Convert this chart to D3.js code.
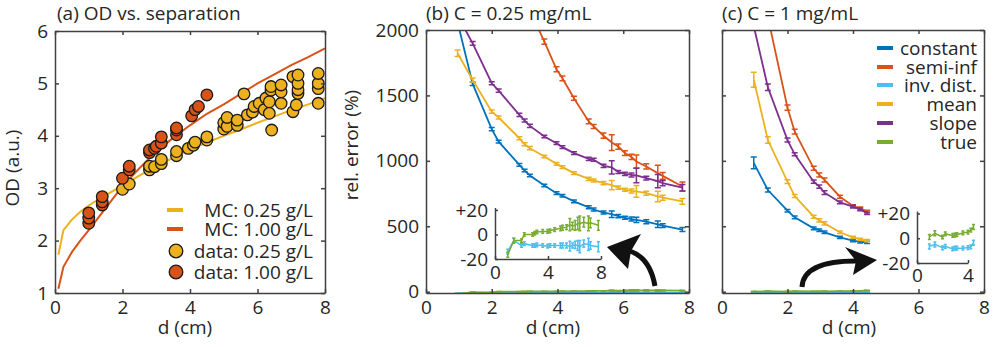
<!DOCTYPE html>
<html>
<head>
<meta charset="utf-8">
<style>
body { margin: 0; background: #fff; }
text { font-family: 'Open Sans', sans-serif; fill: #262626; }
</style>
</head>
<body>
<svg id="fig" width="996" height="347"></svg>
<script src="https://d3js.org/d3.v7.min.js"></script>
<script>

// ---- (a) OD vs separation ----
const mcD    = [0.1, 0.25, 0.5, 0.75, 1, 1.5, 2, 2.5, 3, 3.5, 4, 4.5, 5, 5.5, 6, 6.5, 7, 7.5, 8];
const mc025  = [1.73, 2.2, 2.4, 2.55, 2.67, 2.87, 3.05, 3.24, 3.42, 3.58, 3.74, 3.87, 4.0, 4.12, 4.25, 4.37, 4.49, 4.6, 4.72];
const mc100  = [1.08, 1.5, 1.78, 2.0, 2.2, 2.62, 3.04, 3.38, 3.7, 3.96, 4.2, 4.42, 4.6, 4.8, 5.0, 5.17, 5.35, 5.5, 5.67];

const dData025  = [2.0, 2.2, 2.8, 2.8, 2.95, 3.15, 3.15, 3.6, 3.6, 3.95, 4.1, 4.15, 4.5, 4.5, 5.0, 5.0, 5.1, 5.1, 5.4, 5.4, 5.6, 5.7, 5.85, 5.9, 6.05, 6.2, 6.25, 6.35, 6.35, 6.4, 6.4, 6.42, 6.7, 6.7, 6.7, 7.05, 7.05, 7.15, 7.2, 7.2, 7.2, 7.2, 7.8, 7.8, 7.8, 7.8];
const odData025 = [2.98, 3.08, 3.35, 3.42, 3.41, 3.47, 3.55, 3.62, 3.7, 3.76, 3.82, 3.88, 3.92, 3.98, 4.13, 4.25, 4.18, 4.35, 4.2, 4.3, 4.8, 4.4, 4.45, 4.56, 4.62, 4.5, 4.72, 4.43, 4.65, 4.87, 4.94, 4.11, 4.62, 4.84, 4.97, 4.46, 5.13, 4.59, 4.81, 4.88, 5.0, 5.16, 4.62, 4.9, 5.0, 5.19];
const dData100  = [1.0, 1.0, 1.0, 1.4, 1.4, 1.4, 2.0, 2.2, 2.2, 2.8, 2.8, 2.95, 3.0, 3.15, 3.15, 3.6, 3.6, 3.6, 4.05, 4.15, 4.25, 4.5];
const odData100 = [2.33, 2.43, 2.53, 2.68, 2.74, 2.84, 3.19, 3.35, 3.42, 3.68, 3.73, 3.76, 3.8, 3.86, 3.98, 4.02, 4.11, 4.15, 4.38, 4.5, 4.56, 4.78];

// ---- (b) C = 0.25 mg/mL ----
const dB          = [0.96, 1.42, 2.0, 2.21, 2.84, 3.0, 3.16, 3.6, 3.97, 4.15, 4.5, 4.95, 5.1, 5.4, 5.65, 5.85, 6.05, 6.25, 6.4, 6.7, 7.05, 7.2, 7.8];
const bConstant   = [2060, 1588, 1242, 1147, 969, 926, 888, 812, 753, 733, 690, 645, 628, 605, 592, 578, 565, 555, 548, 535, 515, 505, 475];
const bConstErr   = [20, 12, 12, 10, 10, 10, 10, 10, 10, 10, 10, 12, 12, 12, 25, 12, 12, 15, 20, 15, 25, 15, 15];
const bSemiInf    = [3400, 3000, 2700, 2600, 2400, 2300, 2150, 1911, 1700, 1631, 1479, 1301, 1263, 1192, 1140, 1109, 1059, 1030, 995, 957, 906, 885, 804];
const bSemiErr    = [30, 30, 30, 30, 30, 30, 25, 20, 20, 18, 15, 18, 15, 20, 60, 20, 18, 20, 50, 20, 60, 25, 35];
const bMean       = [1822, 1618, 1376, 1331, 1173, 1127, 1097, 1033, 977, 952, 906, 862, 850, 830, 815, 795, 779, 770, 766, 753, 728, 718, 690];
const bMeanErr    = [25, 15, 12, 12, 12, 12, 12, 10, 10, 10, 10, 12, 12, 12, 35, 12, 12, 15, 45, 15, 40, 20, 22];
const bSlope      = [2110, 1898, 1593, 1537, 1351, 1308, 1267, 1186, 1135, 1105, 1059, 1015, 1008, 962, 950, 915, 900, 892, 888, 868, 845, 830, 795];
const bSlopeErr   = [20, 15, 12, 12, 12, 12, 12, 10, 10, 10, 10, 12, 12, 12, 50, 12, 12, 15, 55, 15, 50, 20, 25];
const bInvDist    = [-14, -5, -9, -7.5, -9, -9, -8.5, -9, -9.5, -9, -9, -9, -9, -9, -9.5, -9, -8.5, -9, -10, -7.5, -8, -9, -10];
const bInvErr     = [2, 2, 1.5, 1.5, 1.5, 1.5, 1.5, 1.5, 1.5, 1.5, 1.5, 2, 2, 2, 4, 2, 3, 4, 5, 3, 5, 3, 4];
const bTrue       = [-16.5, -5, -5, 0, 0, 1, 2, 2.5, 2.5, 3, 4, 5, 5.5, 6, 8, 7, 7.5, 9, 9, 10, 9, 9.5, 7.5];
const bTrueErr    = [2, 2, 1.5, 1.5, 1.5, 1.5, 1.5, 1.5, 1.5, 1.5, 1.5, 2, 2, 2, 5, 3, 4, 5, 6, 4, 6, 4, 4];

// ---- (c) C = 1 mg/mL ----
const dC          = [0.97, 1.4, 2.0, 2.22, 2.8, 2.97, 3.13, 3.6, 4.0, 4.22, 4.43];
const cConstant   = [985, 777, 619, 568, 484, 470, 454, 415, 390, 380, 377];
const cConstErr   = [45, 15, 10, 10, 10, 10, 10, 8, 8, 8, 8];
const cSemiInf    = [2900, 2100, 1406, 1223, 943, 892, 854, 726, 655, 637, 612];
const cSemiErr    = [30, 30, 20, 18, 15, 15, 15, 12, 10, 10, 10];
const cMean       = [1620, 1159, 841, 731, 573, 545, 522, 454, 415, 400, 390];
const cMeanErr    = [58, 25, 15, 12, 12, 12, 12, 10, 8, 8, 8];
const cSlope      = [2030, 1562, 1159, 1050, 841, 803, 757, 683, 650, 629, 599];
const cSlopeErr   = [25, 25, 15, 12, 12, 12, 15, 10, 10, 10, 10];
const cInvDist    = [-6.6, -5, -7.7, -6.6, -8.6, -8, -8, -8, -7.5, -7, -3.7];
const cInvErr     = [2, 2, 1.5, 1.5, 1.5, 1.5, 1.5, 1.5, 1.5, 1.5, 2];
const cTrue       = [1, 4, 1, 3.5, 2.3, 2.5, 3, 4.3, 5, 6.6, 9];
const cTrueErr    = [2, 2, 1.5, 1.5, 1.5, 1.5, 1.5, 1.5, 1.5, 1.5, 2];

const methodNames = ["constant", "semi-inf", "inv. dist.", "mean", "slope", "true"];
const legendA = ["MC: 0.25 g/L", "MC: 1.00 g/L", "data: 0.25 g/L", "data: 1.00 g/L"];

const C = {blue: "#0072BD", red: "#D95319", yellow: "#EDB120", purple: "#7E2F8E", green: "#77AC30", cyan: "#4DBEEE"};
const methodColors = [C.blue, C.red, C.cyan, C.yellow, C.purple, C.green];
const axisColor = "#404040";
const FS = 19;

const svg = d3.select("#fig");
const defs = svg.append("defs");

function styleAxis(g) {
  g.attr("font-size", FS).attr("font-family", null);
  g.selectAll("path.domain").attr("stroke", axisColor).attr("stroke-width", 1.5);
  g.selectAll(".tick line").attr("stroke", axisColor).attr("stroke-width", 1.5);
  g.selectAll(".tick text").attr("fill", "#262626");
}

// box with inward ticks on all four sides
function frame(x, y, xt, yt, yLabels) {
  const x0 = x.range()[0], x1 = x.range()[1], y0 = y.range()[0], y1 = y.range()[1];
  const fmt = d3.format("d");
  svg.append("g").attr("transform", `translate(0,${y0})`)
    .call(d3.axisBottom(x).tickValues(xt).tickFormat(fmt).tickSize(-4).tickSizeOuter(0).tickPadding(8))
    .call(styleAxis);
  svg.append("g").attr("transform", `translate(0,${y1})`)
    .call(d3.axisTop(x).tickValues(xt).tickFormat("").tickSize(-4).tickSizeOuter(0))
    .call(styleAxis);
  svg.append("g").attr("transform", `translate(${x0},0)`)
    .call(d3.axisLeft(y).tickValues(yt).tickFormat(yLabels ? fmt : "").tickSize(-4).tickSizeOuter(0).tickPadding(7))
    .call(styleAxis);
  svg.append("g").attr("transform", `translate(${x1},0)`)
    .call(d3.axisRight(y).tickValues(yt).tickFormat("").tickSize(-4).tickSizeOuter(0))
    .call(styleAxis);
}

function clipFor(id, x, y) {
  defs.append("clipPath").attr("id", id).append("rect")
    .attr("x", x.range()[0]).attr("y", y.range()[1])
    .attr("width", x.range()[1] - x.range()[0]).attr("height", y.range()[0] - y.range()[1]);
  return svg.append("g").attr("clip-path", `url(#${id})`);
}

function errSeries(g, x, y, ds, vs, es, color, lw, cap) {
  g.append("path")
    .attr("d", d3.line().x((d, i) => x(ds[i])).y(d => y(d))(vs))
    .attr("fill", "none").attr("stroke", color).attr("stroke-width", lw);
  g.append("g").selectAll("path").data(vs).join("path")
    .attr("d", (v, i) => {
      const xx = x(ds[i]), yt = y(v + es[i]), yb = y(v - es[i]);
      return `M${xx - cap},${yt}h${2 * cap}M${xx},${yt}V${yb}M${xx - cap},${yb}h${2 * cap}`;
    })
    .attr("fill", "none").attr("stroke", color).attr("stroke-width", 1.5);
}

function addText(x, y, str, anchor, rot) {
  const t = svg.append("text").attr("font-size", FS).attr("text-anchor", anchor || "start").text(str);
  if (rot) t.attr("transform", `translate(${x},${y}) rotate(${rot})`);
  else t.attr("x", x).attr("y", y);
  return t;
}

// ================= panel (a) =================
const xA = d3.scaleLinear().domain([0, 8]).range([55, 325]);
const yA = d3.scaleLinear().domain([1, 6]).range([293, 31]);
const gA = clipFor("clipA", xA, yA);
const lineA = d3.line().x((d, i) => xA(mcD[i])).y(d => yA(d));
gA.append("path").attr("d", lineA(mc025)).attr("fill", "none").attr("stroke", C.yellow).attr("stroke-width", 2);
gA.append("path").attr("d", lineA(mc100)).attr("fill", "none").attr("stroke", C.red).attr("stroke-width", 2);
gA.append("g").selectAll("circle").data(odData025).join("circle")
  .attr("cx", (d, i) => xA(dData025[i])).attr("cy", d => yA(d)).attr("r", 5.8)
  .attr("fill", C.yellow).attr("stroke", "#1a1a1a").attr("stroke-width", 1.3);
gA.append("g").selectAll("circle").data(odData100).join("circle")
  .attr("cx", (d, i) => xA(dData100[i])).attr("cy", d => yA(d)).attr("r", 5.8)
  .attr("fill", C.red).attr("stroke", "#1a1a1a").attr("stroke-width", 1.3);
frame(xA, yA, [0, 2, 4, 6, 8], [1, 2, 3, 4, 5, 6], true);

// legend (a)
const legAY = [210, 229, 251, 272];
legendA.forEach((s, i) => {
  if (i < 2) {
    svg.append("line").attr("x1", 167).attr("x2", 183).attr("y1", legAY[i]).attr("y2", legAY[i])
      .attr("stroke", i === 0 ? C.yellow : C.red).attr("stroke-width", 4);
  } else {
    svg.append("circle").attr("cx", 176).attr("cy", legAY[i]).attr("r", 6.8)
      .attr("fill", i === 2 ? C.yellow : C.red).attr("stroke", "#1a1a1a").attr("stroke-width", 1.3);
  }
  addText(313, legAY[i] + 6.5, s, "end");
});

addText(57, 20, "(a) OD vs. separation");
addText(19, 168, "OD (a.u.)", "middle", -90);
addText(185, 334, "d (cm)", "middle");

// ================= panel (b) =================
const xB = d3.scaleLinear().domain([0, 8]).range([426, 689]);
const yB = d3.scaleLinear().domain([-10, 2000]).range([293, 30]);
const gB = clipFor("clipB", xB, yB);
const bSeries = [[bConstant, bConstErr], [bSemiInf, bSemiErr], [bInvDist, bInvErr], [bMean, bMeanErr], [bSlope, bSlopeErr], [bTrue, bTrueErr]];
bSeries.forEach((s, k) => errSeries(gB, xB, yB, dB, s[0], s[1], methodColors[k], 1.8, 3));
frame(xB, yB, [0, 2, 4, 6, 8], [0, 500, 1000, 1500, 2000], true);

addText(426, 20, "(b) C = 0.25 mg/mL");
addText(358, 145, "rel. error (%)", "middle", -90);
addText(553, 334, "d (cm)", "middle");

// inset (b)
const xBi = d3.scaleLinear().domain([0, 8]).range([495, 601]);
const yBi = d3.scaleLinear().domain([-20, 22]).range([259, 207.5]);
const gBi = svg.append("g");
errSeries(gBi, xBi, yBi, dB, bInvDist, bInvErr, C.cyan, 1.5, 1.5);
errSeries(gBi, xBi, yBi, dB, bTrue, bTrueErr, C.green, 1.5, 1.5);
const insetFmt = d => d > 0 ? "+" + d : String(d);
svg.append("g").attr("transform", "translate(0,259)")
  .call(d3.axisBottom(xBi).tickValues([0, 4, 8]).tickFormat(d3.format("d")).tickSize(-3).tickSizeOuter(0).tickPadding(7))
  .call(styleAxis);
svg.append("g").attr("transform", "translate(495,0)")
  .call(d3.axisLeft(yBi).tickValues([-20, 0, 20]).tickFormat(insetFmt).tickSize(-3).tickSizeOuter(0).tickPadding(7))
  .call(styleAxis);

// arrow (b)
svg.append("path").attr("d", "M655,286 Q650,258 630,251")
  .attr("fill", "none").attr("stroke", "#111").attr("stroke-width", 5);
svg.append("path").attr("d", "M607,247 L641,234 L631,251 L628,269 Z").attr("fill", "#111");

// ================= panel (c) =================
const xC = d3.scaleLinear().domain([0, 8]).range([722, 984]);
const yC = d3.scaleLinear().domain([-10, 2000]).range([293, 30]);
const gC = clipFor("clipC", xC, yC);
const cSeries = [[cConstant, cConstErr], [cSemiInf, cSemiErr], [cInvDist, cInvErr], [cMean, cMeanErr], [cSlope, cSlopeErr], [cTrue, cTrueErr]];
cSeries.forEach((s, k) => errSeries(gC, xC, yC, dC, s[0], s[1], methodColors[k], 1.8, 3));
frame(xC, yC, [0, 2, 4, 6, 8], [0, 500, 1000, 1500, 2000], false);

addText(722, 20, "(c) C = 1 mg/mL");
addText(849, 334, "d (cm)", "middle");

// legend (c)
const legCY = [48, 67, 85, 104, 123, 142];
methodNames.forEach((s, i) => {
  svg.append("line").attr("x1", 877).attr("x2", 893).attr("y1", legCY[i]).attr("y2", legCY[i])
    .attr("stroke", methodColors[i]).attr("stroke-width", 4);
  addText(977, legCY[i] + 6.5, s, "end");
});

// inset (c)
const xCi = d3.scaleLinear().domain([0, 4]).range([917, 968]);
const yCi = d3.scaleLinear().domain([-20, 22]).range([263, 211]);
const gCi = svg.append("g");
errSeries(gCi, xCi, yCi, dC, cInvDist, cInvErr, C.cyan, 1.5, 1.5);
errSeries(gCi, xCi, yCi, dC, cTrue, cTrueErr, C.green, 1.5, 1.5);
svg.append("g").attr("transform", "translate(0,263)")
  .call(d3.axisBottom(xCi).tickValues([0, 4]).tickFormat(d3.format("d")).tickSize(-3).tickSizeOuter(0).tickPadding(5))
  .call(styleAxis);
svg.append("g").attr("transform", "translate(917,0)")
  .call(d3.axisLeft(yCi).tickValues([-20, 0, 20]).tickFormat(insetFmt).tickSize(-3).tickSizeOuter(0).tickPadding(7))
  .call(styleAxis);

// arrow (c)
svg.append("path").attr("d", "M802,287 C803,268 825,261 856,261")
  .attr("fill", "none").attr("stroke", "#111").attr("stroke-width", 5);
svg.append("path").attr("d", "M877,260 L845,247 L856,261 L853,275 Z").attr("fill", "#111");

</script>
</body>
</html>
